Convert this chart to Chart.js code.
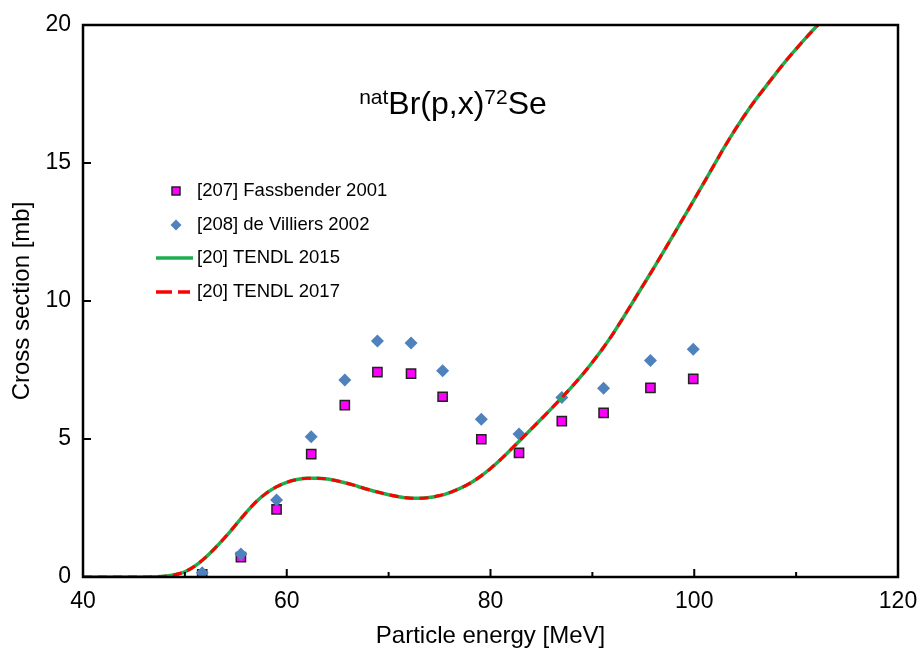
<!DOCTYPE html>
<html>
<head>
<meta charset="utf-8">
<script src="https://cdn.jsdelivr.net/npm/chart.js@4"></script>
<style>
  html, body { margin: 0; padding: 0; background: #fff; }
  #wrap { width: 921px; height: 648px; }
</style>
</head>
<body>
<div id="wrap"><canvas id="chart"></canvas></div>
<script>
// 实验数据
const expEnergy = [51.7, 55.5, 59.0, 62.4, 65.7, 68.9, 72.2, 75.3, 79.1, 82.8, 87.0, 91.1, 95.7, 99.9];
const fassbender2001 = [0.1, 0.72, 2.45, 4.45, 6.23, 7.42, 7.37, 6.53, 4.99, 4.5, 5.65, 5.95, 6.85, 7.18];
const deVilliers2002 = [0.15, 0.83, 2.79, 5.08, 7.14, 8.55, 8.48, 7.47, 5.72, 5.18, 6.5, 6.84, 7.84, 8.25];

// TENDL 计算曲线 (2015 与 2017 几乎重合)
const tendlEnergy = [40, 42, 44, 46, 47, 48, 49, 50, 51, 52, 53, 54, 55, 56, 57, 58, 59, 60,
  61, 62, 63, 64, 65, 66, 67, 68, 69, 70, 71, 72, 73, 74, 75, 76, 77, 78, 79, 80,
  81, 82, 83, 84, 85, 86, 87, 88, 89, 90, 91, 92, 93, 94, 95, 96, 97, 98, 99, 100,
  101, 102, 103, 104, 105, 106, 107, 108, 109, 110, 111, 112, 113];
const tendl2015 = [0, 0, 0, 0, 0.01, 0.03, 0.08, 0.19, 0.40, 0.70, 1.06, 1.46, 1.89, 2.33, 2.73, 3.04, 3.27, 3.43,
  3.53, 3.58, 3.58, 3.55, 3.48, 3.39, 3.28, 3.17, 3.07, 2.98, 2.91, 2.86, 2.85, 2.88, 2.95, 3.06, 3.21, 3.40, 3.64, 3.93,
  4.26, 4.62, 4.99, 5.36, 5.73, 6.11, 6.50, 6.90, 7.32, 7.78, 8.27, 8.80, 9.38, 9.98, 10.58, 11.18, 11.80, 12.42, 13.05, 13.68,
  14.32, 14.96, 15.60, 16.20, 16.76, 17.28, 17.76, 18.24, 18.70, 19.13, 19.55, 19.95, 20.35];
const tendl2017 = tendl2015.slice();

// 坐标轴刻度
const xMajorTicks = [40, 60, 80, 100, 120];
const xMinorTicks = [50, 70, 90, 110];
const yMajorTicks = [0, 5, 10, 15, 20];

const FONT = "'Liberation Sans', Arial, sans-serif";
const GREEN = '#1fae4f';
const RED = '#ff0000';
const MAGENTA = '#ff00ff';
const BLUE = '#4f81bd';

function toPoints(xs, ys) {
    return xs.map((x, i) => ({ x: x, y: ys[i] }));
}

// 边框、内向刻度、标题和图例
const framePlugin = {
    id: 'frame',
    afterDraw(chart) {
        const ctx = chart.ctx;
        const a = chart.chartArea;
        const xs = chart.scales.x;
        const ys = chart.scales.y;
        ctx.save();
        ctx.strokeStyle = '#000';
        ctx.lineWidth = 2.5;
        ctx.strokeRect(a.left, a.top, a.right - a.left, a.bottom - a.top);

        ctx.lineWidth = 2;
        ctx.beginPath();
        xMajorTicks.forEach(v => {
            const px = xs.getPixelForValue(v);
            ctx.moveTo(px, a.bottom); ctx.lineTo(px, a.bottom - 8);
        });
        xMinorTicks.forEach(v => {
            const px = xs.getPixelForValue(v);
            ctx.moveTo(px, a.bottom); ctx.lineTo(px, a.bottom - 5);
        });
        yMajorTicks.forEach(v => {
            const py = ys.getPixelForValue(v);
            ctx.moveTo(a.left, py); ctx.lineTo(a.left + 8, py);
        });
        ctx.stroke();

        // 标题 natBr(p,x)72Se
        ctx.fillStyle = '#000';
        ctx.textBaseline = 'alphabetic';
        ctx.textAlign = 'left';
        const big = '32px ' + FONT;
        const small = '21px ' + FONT;
        const parts = [['nat', small, 104], ['Br(p,x)', big, 114], ['72', small, 104], ['Se', big, 114]];
        let total = 0;
        parts.forEach(p => { ctx.font = p[1]; total += ctx.measureText(p[0]).width; });
        let x = 453 - total / 2;
        parts.forEach(p => {
            ctx.font = p[1];
            ctx.fillText(p[0], x, p[2]);
            x += ctx.measureText(p[0]).width;
        });

        // 图例
        ctx.font = '18.5px ' + FONT;
        ctx.textBaseline = 'middle';
        const tx = 197;
        const rows = [191, 225, 258, 292];
        const labels = ['[207] Fassbender 2001', '[208] de Villiers 2002', '[20] TENDL 2015', '[20] TENDL 2017'];
        labels.forEach((t, i) => ctx.fillText(t, tx, rows[i]));

        ctx.fillStyle = MAGENTA;
        ctx.strokeStyle = '#222';
        ctx.lineWidth = 1.5;
        ctx.fillRect(172, rows[0] - 4, 8, 8);
        ctx.strokeRect(172, rows[0] - 4, 8, 8);

        ctx.fillStyle = BLUE;
        ctx.beginPath();
        ctx.moveTo(176, rows[1] - 5.5); ctx.lineTo(181.5, rows[1]);
        ctx.lineTo(176, rows[1] + 5.5); ctx.lineTo(170.5, rows[1]);
        ctx.closePath(); ctx.fill();

        ctx.strokeStyle = GREEN;
        ctx.lineWidth = 3.5;
        ctx.beginPath();
        ctx.moveTo(156, rows[2]); ctx.lineTo(193, rows[2]);
        ctx.stroke();

        ctx.strokeStyle = RED;
        ctx.lineWidth = 3.5;
        ctx.setLineDash([16, 6]);
        ctx.beginPath();
        ctx.moveTo(156, rows[3]); ctx.lineTo(190, rows[3]);
        ctx.stroke();
        ctx.restore();
    }
};

const ctx = document.getElementById('chart').getContext('2d');
const chart = new Chart(ctx, {
    type: 'scatter',
    data: {
        datasets: [
            {
                label: '[208] de Villiers 2002',
                data: toPoints(expEnergy, deVilliers2002),
                pointStyle: 'rectRot',
                pointRadius: 6.5,
                backgroundColor: BLUE,
                borderColor: BLUE,
                borderWidth: 0,
                order: 3
            },
            {
                label: '[207] Fassbender 2001',
                data: toPoints(expEnergy, fassbender2001),
                pointStyle: 'rect',
                pointRadius: 6.5,
                backgroundColor: MAGENTA,
                borderColor: '#222',
                borderWidth: 1.5,
                order: 4
            },
            {
                type: 'line',
                label: '[20] TENDL 2017',
                data: toPoints(tendlEnergy, tendl2017),
                borderColor: RED,
                borderWidth: 3,
                borderDash: [9, 6],
                pointRadius: 0,
                cubicInterpolationMode: 'monotone',
                fill: false,
                order: 1
            },
            {
                type: 'line',
                label: '[20] TENDL 2015',
                data: toPoints(tendlEnergy, tendl2015),
                borderColor: GREEN,
                borderWidth: 3.5,
                pointRadius: 0,
                cubicInterpolationMode: 'monotone',
                fill: false,
                order: 2
            }
        ]
    },
    options: {
        responsive: true,
        maintainAspectRatio: false,
        animation: false,
        layout: { padding: { top: 25, right: 23, left: 0, bottom: 0 } },
        plugins: {
            legend: { display: false },
            tooltip: { enabled: false }
        },
        scales: {
            x: {
                type: 'linear',
                min: 40,
                max: 120,
                afterFit(scale) {
                    scale.height = 71;
                    scale.paddingLeft = 0;
                    scale.paddingRight = 0;
                },
                grid: { display: false, drawTicks: false },
                border: { display: false },
                ticks: {
                    stepSize: 20,
                    padding: 11,
                    color: '#000',
                    font: { family: FONT, size: 23 }
                },
                title: {
                    display: true,
                    text: 'Particle energy [MeV]',
                    color: '#000',
                    font: { family: FONT, size: 24, lineHeight: 1.0 },
                    padding: { top: 0, bottom: 0 }
                }
            },
            y: {
                type: 'linear',
                min: 0,
                max: 20,
                afterFit(scale) {
                    scale.width = 83;
                    scale.paddingTop = 0;
                    scale.paddingBottom = 0;
                },
                grid: { display: false, drawTicks: false },
                border: { display: false },
                ticks: {
                    stepSize: 5,
                    padding: 12,
                    color: '#000',
                    font: { family: FONT, size: 23 }
                },
                title: {
                    display: true,
                    text: 'Cross section [mb]',
                    color: '#000',
                    font: { family: FONT, size: 24 },
                    padding: { top: 8, bottom: 0 }
                }
            }
        }
    },
    plugins: [framePlugin]
});
</script>
</body>
</html>
